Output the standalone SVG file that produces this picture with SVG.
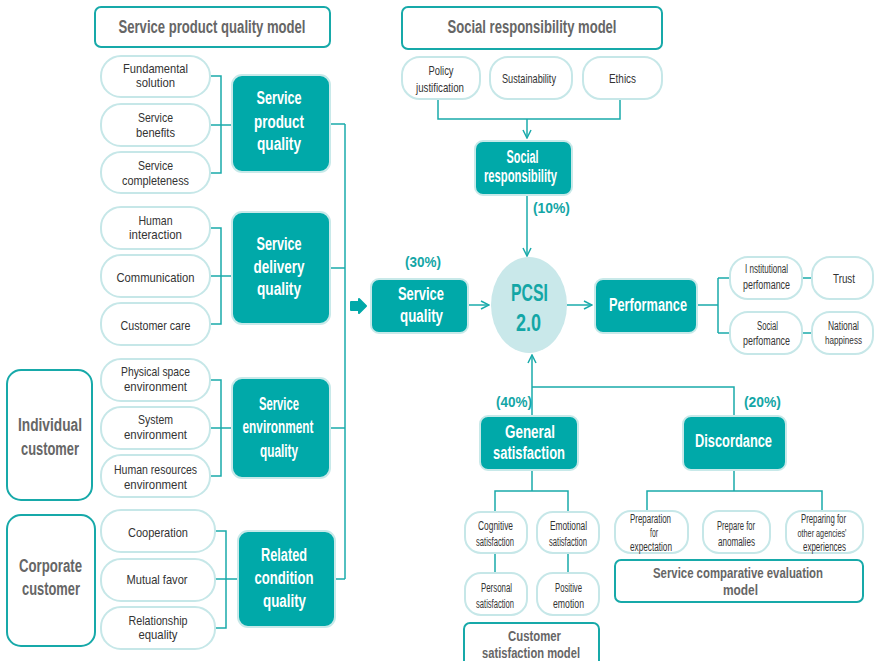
<svg xmlns="http://www.w3.org/2000/svg" width="876" height="661" viewBox="0 0 876 661">
<defs>
<style>
.pill{fill:#fff;stroke:#c6e7e8;stroke-width:2}
.box{fill:#00a9a9;stroke:#c8e9e9;stroke-width:2}
.frame{fill:#fff;stroke:#17a9a9;stroke-width:2}
.ln{fill:none;stroke:#1aabab;stroke-width:1.5}
text{font-family:"Liberation Sans",Arial,sans-serif;text-anchor:middle}
.t{font-size:13.5px;fill:#333}
.s{font-size:12px;fill:#333}
.xs{font-size:10.5px}
.w{font-weight:bold;font-size:17.5px;fill:#fff}
.g{font-weight:bold;font-size:18px;fill:#666}
.m{font-size:15.5px}
.ms{font-size:14px}
.p{font-weight:bold;font-size:15.5px;fill:#13a6a6}
.c{font-weight:bold;font-size:24px;fill:#13a6a6}
</style>
<marker id="ah" viewBox="0 0 10 10" refX="9" refY="5" markerWidth="10" markerHeight="10" markerUnits="userSpaceOnUse" orient="auto">
<path d="M1,1 L9,5 L1,9" fill="none" stroke="#1aabab" stroke-width="1.5"/>
</marker>
</defs>
<rect width="876" height="661" fill="#fff"/>

<g id="connectors">
<path class="ln" d="M210,76 H221 V173 H210 M210,125 H232 M330,124 H345"/>
<path class="ln" d="M210,228 H221 V324 H210 M210,276 H232 M330,268 H345"/>
<path class="ln" d="M210,380 H221 V476 H210 M210,428 H232 M330,428 H345"/>
<path class="ln" d="M215,531 H226 V628 H215 M215,579 H238 M335,579 H345"/>
<path class="ln" d="M345,124 V579"/>
<path class="ln" d="M438,99 V119 H620 V99"/>
<path class="ln" d="M527,119 V138" marker-end="url(#ah)"/>
<path class="ln" d="M527,195 V256" marker-end="url(#ah)"/>
<path class="ln" d="M468,305 H489" marker-end="url(#ah)"/>
<path class="ln" d="M567,305 H592" marker-end="url(#ah)"/>
<path class="ln" d="M532,416 V355" marker-end="url(#ah)"/>
<path class="ln" d="M532,387 H734 V416"/>
<path class="ln" d="M697,305 H718 M718,278 V333 M718,278 H730 M718,333 H730 M802,278 H812 M802,333 H812"/>
<path class="ln" d="M532,471 V491 M495,512 V491 H568 V512 M495,553 V573 M568,553 V573"/>
<path class="ln" d="M734,471 V491 M647,511 V491 H822 V511"/>
<path d="M351,302 H359 V299 L366,306 L359,313 V310 H351 Z" fill="#00a9a9" stroke="#00a9a9" stroke-width="2" stroke-linejoin="round"/>
</g>

<g id="title-service-product">
<rect class="frame" x="95" y="7" width="235" height="40" rx="6"/>
<text class="g" x="212" y="33" textLength="187" lengthAdjust="spacingAndGlyphs">Service product quality model</text>
</g>
<g id="title-social">
<rect class="frame" x="402" y="7" width="260" height="42" rx="6"/>
<text class="g" x="532" y="33" textLength="169" lengthAdjust="spacingAndGlyphs">Social responsibility model</text>
</g>

<g id="p-fundamental"><rect class="pill" x="101" y="56" width="109" height="41" rx="20"/>
<text class="t" x="155.5" y="73" textLength="65" lengthAdjust="spacingAndGlyphs">Fundamental</text>
<text class="t" x="155.5" y="87" textLength="39" lengthAdjust="spacingAndGlyphs">solution</text></g>
<g id="p-benefits"><rect class="pill" x="101" y="104" width="109" height="42" rx="20"/>
<text class="t" x="155.5" y="122" textLength="35" lengthAdjust="spacingAndGlyphs">Service</text>
<text class="t" x="155.5" y="137" textLength="39" lengthAdjust="spacingAndGlyphs">benefits</text></g>
<g id="p-completeness"><rect class="pill" x="101" y="152" width="109" height="41" rx="20"/>
<text class="t" x="155.5" y="170" textLength="35" lengthAdjust="spacingAndGlyphs">Service</text>
<text class="t" x="155.5" y="185" textLength="67" lengthAdjust="spacingAndGlyphs">completeness</text></g>

<g id="p-human"><rect class="pill" x="101" y="207" width="109" height="42" rx="20"/>
<text class="t" x="155.5" y="225" textLength="34" lengthAdjust="spacingAndGlyphs">Human</text>
<text class="t" x="155.5" y="239" textLength="53" lengthAdjust="spacingAndGlyphs">interaction</text></g>
<g id="p-communication"><rect class="pill" x="101" y="255" width="109" height="42" rx="20"/>
<text class="t" x="155.5" y="282" textLength="78" lengthAdjust="spacingAndGlyphs">Communication</text></g>
<g id="p-care"><rect class="pill" x="101" y="303" width="109" height="42" rx="20"/>
<text class="t" x="155.5" y="330" textLength="70" lengthAdjust="spacingAndGlyphs">Customer care</text></g>

<g id="p-physical"><rect class="pill" x="101" y="359" width="109" height="42" rx="20"/>
<text class="t" x="155.5" y="376" textLength="69" lengthAdjust="spacingAndGlyphs">Physical space</text>
<text class="t" x="155.5" y="391" textLength="63" lengthAdjust="spacingAndGlyphs">environment</text></g>
<g id="p-system"><rect class="pill" x="101" y="407" width="109" height="42" rx="20"/>
<text class="t" x="155.5" y="424" textLength="35" lengthAdjust="spacingAndGlyphs">System</text>
<text class="t" x="155.5" y="439" textLength="63" lengthAdjust="spacingAndGlyphs">environment</text></g>
<g id="p-hr"><rect class="pill" x="101" y="455" width="109" height="42" rx="20"/>
<text class="t" x="155.5" y="474" textLength="83" lengthAdjust="spacingAndGlyphs">Human resources</text>
<text class="t" x="155.5" y="489" textLength="63" lengthAdjust="spacingAndGlyphs">environment</text></g>

<g id="p-cooperation"><rect class="pill" x="101" y="510" width="114" height="42" rx="20"/>
<text class="t" x="158" y="537" textLength="60" lengthAdjust="spacingAndGlyphs">Cooperation</text></g>
<g id="p-mutual"><rect class="pill" x="101" y="559" width="114" height="42" rx="20"/>
<text class="t" x="157" y="584" textLength="61" lengthAdjust="spacingAndGlyphs">Mutual favor</text></g>
<g id="p-relationship"><rect class="pill" x="101" y="607" width="114" height="42" rx="20"/>
<text class="t" x="158" y="625" textLength="59" lengthAdjust="spacingAndGlyphs">Relationship</text>
<text class="t" x="158" y="639" textLength="39" lengthAdjust="spacingAndGlyphs">equality</text></g>

<g id="b-product"><rect class="box" x="232" y="75" width="98" height="97" rx="10"/>
<text class="w" x="279" y="104" textLength="45" lengthAdjust="spacingAndGlyphs">Service</text>
<text class="w" x="279" y="128" textLength="50" lengthAdjust="spacingAndGlyphs">product</text>
<text class="w" x="279" y="150" textLength="44" lengthAdjust="spacingAndGlyphs">quality</text></g>
<g id="b-delivery"><rect class="box" x="232" y="212" width="98" height="112" rx="10"/>
<text class="w" x="279" y="250" textLength="45" lengthAdjust="spacingAndGlyphs">Service</text>
<text class="w" x="279" y="273" textLength="51" lengthAdjust="spacingAndGlyphs">delivery</text>
<text class="w" x="279" y="295" textLength="44" lengthAdjust="spacingAndGlyphs">quality</text></g>
<g id="b-environment"><rect class="box" x="232" y="378" width="98" height="100" rx="10"/>
<text class="w" x="279" y="410" textLength="40" lengthAdjust="spacingAndGlyphs">Service</text>
<text class="w" x="278" y="433" textLength="71" lengthAdjust="spacingAndGlyphs">environment</text>
<text class="w" x="279" y="457" textLength="38" lengthAdjust="spacingAndGlyphs">quality</text></g>
<g id="b-related"><rect class="box" x="238" y="531" width="97" height="96" rx="10"/>
<text class="w" x="284" y="561" textLength="46" lengthAdjust="spacingAndGlyphs">Related</text>
<text class="w" x="284" y="584" textLength="59" lengthAdjust="spacingAndGlyphs">condition</text>
<text class="w" x="284.5" y="607" textLength="43" lengthAdjust="spacingAndGlyphs">quality</text></g>

<g id="individual"><rect class="frame" x="7" y="370" width="85" height="130" rx="14"/>
<text class="g" x="50" y="431" textLength="64" lengthAdjust="spacingAndGlyphs">Individual</text>
<text class="g" x="50" y="455" textLength="58" lengthAdjust="spacingAndGlyphs">customer</text></g>
<g id="corporate"><rect class="frame" x="7" y="515" width="88" height="131" rx="14"/>
<text class="g" x="50.5" y="572" textLength="63" lengthAdjust="spacingAndGlyphs">Corporate</text>
<text class="g" x="51" y="595" textLength="58" lengthAdjust="spacingAndGlyphs">customer</text></g>

<g id="p-policy"><rect class="pill" x="402" y="57" width="78" height="42" rx="18"/>
<text class="t" x="441" y="75" textLength="25" lengthAdjust="spacingAndGlyphs">Policy</text>
<text class="t" x="440" y="92" textLength="48" lengthAdjust="spacingAndGlyphs">justification</text></g>
<g id="p-sustainability"><rect class="pill" x="490" y="57" width="82" height="42" rx="18"/>
<text class="t" x="529" y="83" textLength="54" lengthAdjust="spacingAndGlyphs">Sustainability</text></g>
<g id="p-ethics"><rect class="pill" x="583" y="57" width="79" height="42" rx="18"/>
<text class="t" x="622.5" y="83" textLength="27" lengthAdjust="spacingAndGlyphs">Ethics</text></g>

<g id="b-social"><rect class="box" x="475" y="141" width="97" height="54" rx="8"/>
<text class="w" x="522.5" y="163" textLength="32" lengthAdjust="spacingAndGlyphs">Social</text>
<text class="w" x="520.5" y="182" textLength="73" lengthAdjust="spacingAndGlyphs">responsibility</text></g>
<text class="p" x="551.5" y="213" textLength="37" lengthAdjust="spacingAndGlyphs">(10%)</text>

<g id="b-service-quality"><rect class="box" x="371" y="279" width="97" height="54" rx="8"/>
<text class="w" x="421" y="300" textLength="46" lengthAdjust="spacingAndGlyphs">Service</text>
<text class="w" x="421.5" y="322" textLength="43" lengthAdjust="spacingAndGlyphs">quality</text></g>
<text class="p" x="423" y="267" textLength="36" lengthAdjust="spacingAndGlyphs">(30%)</text>

<g id="pcsi"><ellipse cx="529" cy="305" rx="38" ry="48" fill="#c9e8ea"/>
<text class="c" x="529.5" y="301" textLength="37" lengthAdjust="spacingAndGlyphs">PCSI</text>
<text class="c" x="528.5" y="331" textLength="25" lengthAdjust="spacingAndGlyphs">2.0</text></g>

<g id="b-performance"><rect class="box" x="595" y="279" width="102" height="54" rx="8"/>
<text class="w" x="648" y="311" textLength="78" lengthAdjust="spacingAndGlyphs">Performance</text></g>

<g id="p-institutional"><rect class="pill" x="730" y="257" width="72" height="42" rx="18"/>
<text class="s" x="766.5" y="273" textLength="43" lengthAdjust="spacingAndGlyphs">I nstitutional</text>
<text class="s" x="766.5" y="289" textLength="47" lengthAdjust="spacingAndGlyphs">perfomance</text></g>
<g id="p-trust"><rect class="pill" x="812" y="257" width="61" height="42" rx="18"/>
<text class="s" x="844" y="283" textLength="22" lengthAdjust="spacingAndGlyphs">Trust</text></g>
<g id="p-social-perf"><rect class="pill" x="730" y="312" width="72" height="42" rx="18"/>
<text class="s" x="767.5" y="330" textLength="21" lengthAdjust="spacingAndGlyphs">Social</text>
<text class="s" x="766.5" y="345" textLength="47" lengthAdjust="spacingAndGlyphs">perfomance</text></g>
<g id="p-national"><rect class="pill" x="812" y="312" width="61" height="42" rx="18"/>
<text class="s" x="843.5" y="330" textLength="31" lengthAdjust="spacingAndGlyphs">National</text>
<text class="s xs" x="843.5" y="344" textLength="37" lengthAdjust="spacingAndGlyphs">happiness</text></g>

<text class="p" x="514" y="407" textLength="36" lengthAdjust="spacingAndGlyphs">(40%)</text>
<text class="p" x="762.5" y="407" textLength="37" lengthAdjust="spacingAndGlyphs">(20%)</text>

<g id="b-general"><rect class="box" x="480" y="416" width="98" height="54" rx="8"/>
<text class="w" x="530" y="438" textLength="50" lengthAdjust="spacingAndGlyphs">General</text>
<text class="w" x="529" y="459" textLength="72" lengthAdjust="spacingAndGlyphs">satisfaction</text></g>
<g id="b-discordance"><rect class="box" x="683" y="416" width="103" height="54" rx="8"/>
<text class="w" x="733.5" y="447" textLength="77" lengthAdjust="spacingAndGlyphs">Discordance</text></g>

<g id="p-cognitive"><rect class="pill" x="465" y="512" width="62" height="41" rx="16"/>
<text class="s" x="495.5" y="530" textLength="35" lengthAdjust="spacingAndGlyphs">Cognitive</text>
<text class="s" x="495" y="546" textLength="38" lengthAdjust="spacingAndGlyphs">satisfaction</text></g>
<g id="p-emotional"><rect class="pill" x="537" y="512" width="62" height="41" rx="16"/>
<text class="s" x="568.5" y="530" textLength="37" lengthAdjust="spacingAndGlyphs">Emotional</text>
<text class="s" x="568" y="546" textLength="38" lengthAdjust="spacingAndGlyphs">satisfaction</text></g>
<g id="p-personal"><rect class="pill" x="465" y="573" width="62" height="42" rx="16"/>
<text class="s" x="496.5" y="592" textLength="31" lengthAdjust="spacingAndGlyphs">Personal</text>
<text class="s" x="495" y="608" textLength="38" lengthAdjust="spacingAndGlyphs">satisfaction</text></g>
<g id="p-positive"><rect class="pill" x="537" y="573" width="62" height="42" rx="16"/>
<text class="s" x="568.5" y="592" textLength="27" lengthAdjust="spacingAndGlyphs">Positive</text>
<text class="s" x="568.5" y="608" textLength="31" lengthAdjust="spacingAndGlyphs">emotion</text></g>
<g id="customer-satisfaction-model"><rect class="frame" x="464" y="623" width="135" height="50" rx="6"/>
<text class="g m" x="534.5" y="641" textLength="53" lengthAdjust="spacingAndGlyphs">Customer</text>
<text class="g m" x="531" y="658" textLength="98" lengthAdjust="spacingAndGlyphs">satisfaction model</text></g>

<g id="p-expectation"><rect class="pill" x="615" y="511" width="73" height="42" rx="16"/>
<text class="s" x="650.5" y="523" textLength="41" lengthAdjust="spacingAndGlyphs">Preparation</text>
<text class="s" x="654" y="537" textLength="8" lengthAdjust="spacingAndGlyphs">for</text>
<text class="s" x="651" y="551" textLength="42" lengthAdjust="spacingAndGlyphs">expectation</text></g>
<g id="p-anomalies"><rect class="pill" x="703" y="511" width="67" height="42" rx="16"/>
<text class="s" x="736" y="530" textLength="38" lengthAdjust="spacingAndGlyphs">Prepare for</text>
<text class="s" x="736.5" y="546" textLength="37" lengthAdjust="spacingAndGlyphs">anomalies</text></g>
<g id="p-agencies"><rect class="pill" x="786" y="511" width="77" height="42" rx="16"/>
<text class="s" x="823.5" y="523" textLength="45" lengthAdjust="spacingAndGlyphs">Preparing for</text>
<text class="s xs" x="822" y="537" textLength="49" lengthAdjust="spacingAndGlyphs">other agencies'</text>
<text class="s" x="824.5" y="551" textLength="43" lengthAdjust="spacingAndGlyphs">experiences</text></g>
<g id="service-comparative-model"><rect class="frame" x="615" y="560" width="248" height="42" rx="6"/>
<text class="g ms" x="738" y="578" textLength="170" lengthAdjust="spacingAndGlyphs">Service comparative evaluation</text>
<text class="g m" x="740.5" y="595" textLength="35" lengthAdjust="spacingAndGlyphs">model</text></g>
</svg>
